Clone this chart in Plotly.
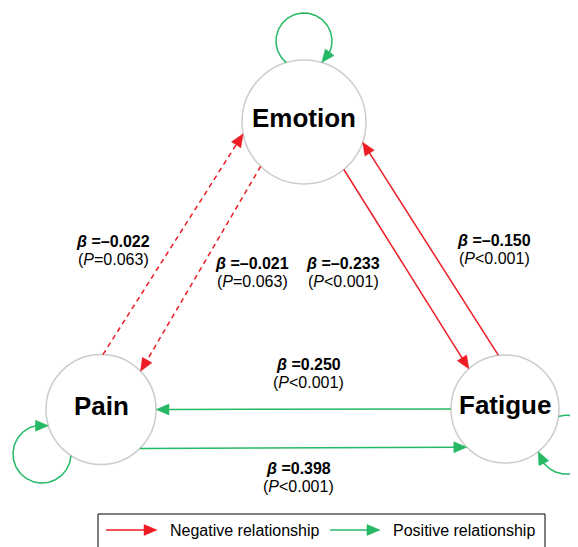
import math
import plotly.graph_objects as go

# ---------------- data ----------------
nodes = ["Emotion", "Pain", "Fatigue"]
edge_source = ["Pain", "Emotion", "Emotion", "Fatigue", "Fatigue", "Pain"]
edge_target = ["Emotion", "Pain", "Fatigue", "Emotion", "Pain", "Fatigue"]
edge_beta = [-0.022, -0.021, -0.233, -0.150, 0.250, 0.398]
edge_p_op = ["=", "=", "<", "<", "<", "<"]
edge_p_val = ["0.063", "0.063", "0.001", "0.001", "0.001", "0.001"]
edge_significant = [False, False, True, True, True, True]
loop_nodes = ["Emotion", "Pain", "Fatigue"]
loop_sign = [1, 1, 1]
legend_labels = ["Negative relationship", "Positive relationship"]

# ---------------- layout (window pixel space, y downwards) ----------------
W, H = 578, 547
PAGE_MARGIN = 8  # default body margin of the html page
RED = "#ED1C24"
GREEN = "#25B865"
FONT = "Liberation Sans, Arial, sans-serif"
node_center = {"Emotion": (304, 122), "Pain": (101, 409.5), "Fatigue": (505, 409)}
node_radius = {"Emotion": 62, "Pain": 55, "Fatigue": 54}
node_text_dy = -4
edge_angles = [(88, 191), (225.7, 44), (310, 132), (97, 341), (180, 0), (315, 225)]
label_pos = [(113, 241), (252, 263), (343, 263), (494, 240), (308, 364), (298, 468)]
line_gap = 18.5
loop_offset = {"Emotion": (90, 81), "Pain": (217, 73.9), "Fatigue": (330, 71.4)}
loop_radius = {"Emotion": 28, "Pain": 29, "Fatigue": 29.5}
HEAD_L, HEAD_W = 13, 11

fig = go.Figure()


def pt(c, r, ang):
    a = math.radians(ang)
    return (c[0] + r * math.cos(a), c[1] - r * math.sin(a))


def add_head(tip, d, color):
    px, py = -d[1], d[0]
    bx, by = tip[0] - d[0] * HEAD_L, tip[1] - d[1] * HEAD_L
    xs = [tip[0], bx + px * HEAD_W / 2, bx - px * HEAD_W / 2, tip[0]]
    ys = [tip[1], by + py * HEAD_W / 2, by - py * HEAD_W / 2, tip[1]]
    fig.add_trace(go.Scatter(x=xs, y=ys, mode="lines", fill="toself",
                             fillcolor=color, line=dict(color=color, width=0.5),
                             hoverinfo="skip", showlegend=False))


def add_arrow(s, t, color, dash="solid", width=1.5):
    dx, dy = t[0] - s[0], t[1] - s[1]
    L = math.hypot(dx, dy)
    d = (dx / L, dy / L)
    e = (t[0] - d[0] * (HEAD_L - 2), t[1] - d[1] * (HEAD_L - 2))
    fig.add_trace(go.Scatter(x=[s[0], e[0]], y=[s[1], e[1]], mode="lines",
                             line=dict(color=color, width=width, dash=dash),
                             hoverinfo="skip", showlegend=False))
    add_head(t, d, color)


# nodes
for n in nodes:
    c, r = node_center[n], node_radius[n]
    fig.add_shape(type="circle", xref="x", yref="y", x0=c[0] - r, x1=c[0] + r,
                  y0=c[1] - r, y1=c[1] + r, line=dict(color="#CCCCCC", width=1.5),
                  fillcolor="white", layer="below")

# edges
for i in range(len(edge_source)):
    sc, tc = node_center[edge_source[i]], node_center[edge_target[i]]
    sr, tr = node_radius[edge_source[i]], node_radius[edge_target[i]]
    a0, a1 = edge_angles[i]
    color = RED if edge_beta[i] < 0 else GREEN
    dash = "solid" if edge_significant[i] else "5px,4px"
    add_arrow(pt(sc, sr, a0), pt(tc, tr, a1), color, dash)
    b = edge_beta[i]
    btxt = ("\u2013" if b < 0 else "") + f"{abs(b):.3f}"
    lx, ly = label_pos[i]
    fig.add_annotation(x=lx, y=ly, text=f"<b><i>\u03b2</i> ={btxt}</b>", showarrow=False,
                       xanchor="center", yanchor="middle",
                       font=dict(family=FONT, size=16, color="black"))
    fig.add_annotation(x=lx, y=ly + line_gap,
                       text=f"(<i>P</i>{edge_p_op[i]}{edge_p_val[i]})", showarrow=False,
                       xanchor="center", yanchor="middle",
                       font=dict(family=FONT, size=16, color="black"))

# self loops
for n, sgn in zip(loop_nodes, loop_sign):
    c, R = node_center[n], node_radius[n]
    ang, dist = loop_offset[n]
    r = loop_radius[n]
    lc = pt(c, dist, ang)
    phi0 = ang + 180  # direction from loop centre to node centre
    a = (dist ** 2 + r ** 2 - R ** 2) / (2 * dist)
    alpha = math.degrees(math.acos(a / r))
    start = phi0 - alpha
    end = phi0 + alpha - 360
    delta = math.degrees(HEAD_L / r)
    stop = end + delta * 0.8
    N = 120
    xs, ys = [], []
    for k in range(N + 1):
        th = start + (stop - start) * k / N
        p = pt(lc, r, th)
        xs.append(p[0])
        ys.append(p[1])
    color = GREEN if sgn > 0 else RED
    fig.add_trace(go.Scatter(x=xs, y=ys, mode="lines", line=dict(color=color, width=1.5),
                             hoverinfo="skip", showlegend=False))
    tip = pt(lc, r, end)
    prev = pt(lc, r, end + delta)
    dx, dy = tip[0] - prev[0], tip[1] - prev[1]
    L = math.hypot(dx, dy)
    add_head(tip, (dx / L, dy / L), color)

# node labels
for n in nodes:
    c = node_center[n]
    fig.add_annotation(x=c[0], y=c[1] + node_text_dy, text=f"<b>{n}</b>", showarrow=False,
                       xanchor="center", yanchor="middle",
                       font=dict(family=FONT, size=26, color="black"))

# legend
fig.add_shape(type="rect", xref="x", yref="y", x0=98, x1=545, y0=514, y1=552,
              line=dict(color="black", width=1), fillcolor="white", layer="below")
leg_y = 530
for lab, color, x0, x1, xt in zip(legend_labels, [RED, GREEN], [106, 330], [157, 380], [168, 391]):
    add_arrow((x0, leg_y), (x1, leg_y), color)
    fig.add_annotation(x=xt, y=leg_y, text=lab, showarrow=False, xanchor="left",
                       yanchor="middle", font=dict(family=FONT, size=16, color="black"))

fig.update_layout(
    width=W - PAGE_MARGIN, height=H - PAGE_MARGIN, margin=dict(l=0, r=0, t=0, b=0),
    paper_bgcolor="white", plot_bgcolor="white", showlegend=False,
    xaxis=dict(range=[PAGE_MARGIN, W], visible=False, fixedrange=True),
    yaxis=dict(range=[H, PAGE_MARGIN], visible=False, fixedrange=True),
)
fig.write_html("out.html")
